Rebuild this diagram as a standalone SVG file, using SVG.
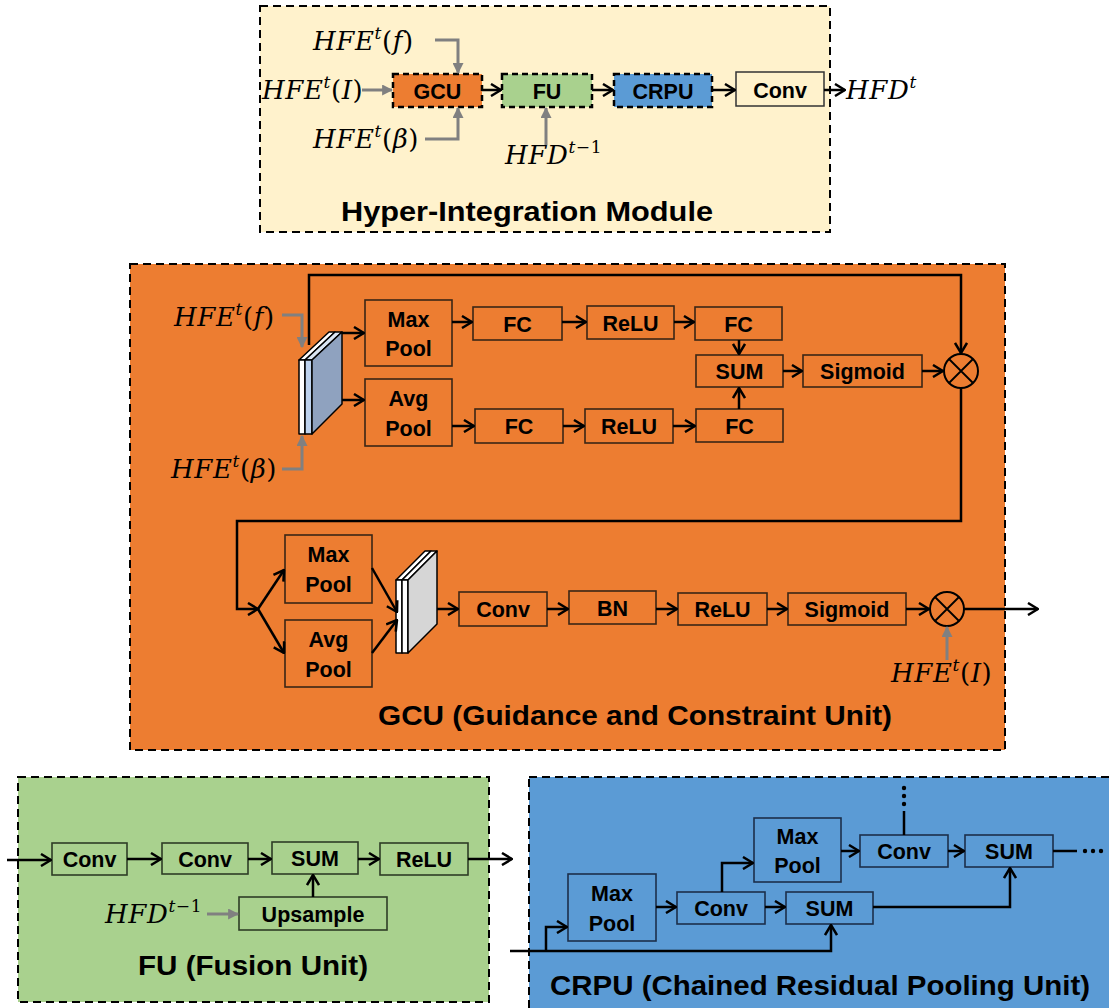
<svg xmlns="http://www.w3.org/2000/svg" width="1109" height="1008" viewBox="0 0 1109 1008">
<defs>
<style>
.frame{stroke:#000;stroke-width:2;stroke-dasharray:8 5}
.bx{fill:none;stroke:#3a2616;stroke-width:1.6}
.bxg{fill:none;stroke:#2e3d26;stroke-width:1.6}
.bxb{fill:none;stroke:#1c2f4a;stroke-width:1.6}
.lbl{font-family:"Liberation Sans",Arial,sans-serif;font-weight:bold;font-size:21.5px;text-anchor:middle;fill:#000}
.ttl{font-family:"Liberation Sans",Arial,sans-serif;font-weight:bold;font-size:28px;fill:#000}
.math{font-family:"DejaVu Serif","Liberation Serif",serif;font-style:italic;font-size:26px;letter-spacing:0.6px;fill:#000}
.up{font-style:normal}
.ar{fill:none;stroke:#000;stroke-width:2.5;marker-end:url(#ah)}
.ln{fill:none;stroke:#000;stroke-width:2.5}
.ga{fill:none;stroke:#808080;stroke-width:3;marker-end:url(#ag)}
.mdash{stroke:#000;stroke-width:2.5;stroke-dasharray:6 4}
</style>
<marker id="ah" viewBox="0 0 12 14" refX="11" refY="7" markerWidth="12" markerHeight="14" markerUnits="userSpaceOnUse" orient="auto"><path d="M1,1 L11,7 L1,13" fill="none" stroke="#000" stroke-width="2.5"/></marker>
<marker id="ag" viewBox="0 0 10 10" refX="9" refY="5" markerWidth="11" markerHeight="11" markerUnits="userSpaceOnUse" orient="auto"><path d="M0,0 L10,5 L0,10 z" fill="#808080"/></marker>
</defs>
<rect width="1109" height="1008" fill="#fff"/>

<!-- ===== Hyper-Integration Module ===== -->
<g id="him">
<rect x="260" y="6" width="570" height="226" fill="#FFF2CC" class="frame"/>
<g id="him-gcu"><rect x="393" y="74" width="89" height="33" fill="#ED7D31" class="mdash"/><text x="437.5" y="98.5" class="lbl" font-size="22">GCU</text></g>
<g id="him-fu"><rect x="502" y="74" width="90" height="33" fill="#A9D18E" class="mdash"/><text x="547" y="98.5" class="lbl" font-size="22">FU</text></g>
<g id="him-crpu"><rect x="614" y="74" width="98" height="33" fill="#5B9BD5" class="mdash"/><text x="663" y="98.5" class="lbl" font-size="22">CRPU</text></g>
<g id="him-conv"><rect x="736" y="72" width="88" height="34" fill="#FFF2CC" stroke="#333" stroke-width="1.5"/><text x="780" y="97.5" class="lbl" font-size="22">Conv</text></g>
<text x="313" y="50" class="math">HFE<tspan dy="-11" font-size="17">t</tspan><tspan dy="11" class="up">(</tspan>f<tspan class="up">)</tspan></text>
<text x="262" y="99" class="math">HFE<tspan dy="-11" font-size="17">t</tspan><tspan dy="11" class="up">(</tspan>I<tspan class="up">)</tspan></text>
<text x="313" y="148" class="math">HFE<tspan dy="-11" font-size="17">t</tspan><tspan dy="11" class="up">(</tspan>β<tspan class="up">)</tspan></text>
<text x="505" y="164" class="math">HFD<tspan dy="-11" font-size="17">t</tspan><tspan font-size="17" class="up">−1</tspan></text>
<text x="846" y="99" class="math">HFD<tspan dy="-11" font-size="17">t</tspan></text>
<text x="527" y="221" class="ttl" text-anchor="middle" textLength="372" lengthAdjust="spacingAndGlyphs">Hyper-Integration Module</text>
</g>

<!-- ===== GCU ===== -->
<g id="gcu">
<rect x="130" y="264" width="875" height="486" fill="#ED7D31" class="frame"/>
<text x="174" y="326" class="math">HFE<tspan dy="-11" font-size="17">t</tspan><tspan dy="11" class="up">(</tspan>f<tspan class="up">)</tspan></text>
<text x="171" y="478" class="math">HFE<tspan dy="-11" font-size="17">t</tspan><tspan dy="11" class="up">(</tspan>β<tspan class="up">)</tspan></text>
<text x="891" y="682" class="math">HFE<tspan dy="-11" font-size="17">t</tspan><tspan dy="11" class="up">(</tspan>I<tspan class="up">)</tspan></text>

<g id="stack1" stroke="#000" stroke-width="1.5" stroke-linejoin="round">
<polygon points="299,360 305,360 335,332 329,332" fill="#fff"/>
<rect x="299" y="360" width="6" height="74" fill="#fff"/>
<polygon points="305,360 312,360 342,332 335,332" fill="#DAE5F3"/>
<rect x="305" y="360" width="7" height="74" fill="#BDD2EE"/>
<polygon points="312,360 342,332 342,404 312,434" fill="#8FA2BF"/>
</g>
<g id="stack2" stroke="#000" stroke-width="1.5" stroke-linejoin="round">
<polygon points="396,580 402,580 431,551 425,551" fill="#fff"/>
<rect x="396" y="580" width="6" height="73" fill="#fff"/>
<polygon points="402,580 408,580 437,551 431,551" fill="#fff"/>
<rect x="402" y="580" width="6" height="73" fill="#fff"/>
<polygon points="408,580 437,551 437,624 408,653" fill="#D6D6D6"/>
</g>

<g id="g-maxpool"><rect x="365" y="300" width="87" height="66" class="bx"/><text x="408.5" y="327" class="lbl">Max</text><text x="408.5" y="356" class="lbl">Pool</text></g>
<g id="g-avgpool"><rect x="365" y="379" width="87" height="67" class="bx"/><text x="408.5" y="406" class="lbl">Avg</text><text x="408.5" y="436" class="lbl">Pool</text></g>
<g id="g-fc1"><rect x="473" y="307" width="89" height="33" class="bx"/><text x="517.5" y="331.5" class="lbl">FC</text></g>
<g id="g-relu1"><rect x="587" y="306" width="87" height="33" class="bx"/><text x="630.5" y="330.5" class="lbl">ReLU</text></g>
<g id="g-fc2"><rect x="695" y="307" width="87" height="33" class="bx"/><text x="738.5" y="331.5" class="lbl">FC</text></g>
<g id="g-sum"><rect x="696" y="355" width="87" height="32" class="bx"/><text x="739.5" y="379" class="lbl">SUM</text></g>
<g id="g-sig1"><rect x="803" y="355" width="119" height="32" class="bx"/><text x="862.5" y="379" class="lbl">Sigmoid</text></g>
<g id="g-fc3"><rect x="475" y="409" width="88" height="34" class="bx"/><text x="519" y="434" class="lbl">FC</text></g>
<g id="g-relu2"><rect x="585" y="409" width="88" height="34" class="bx"/><text x="629" y="434" class="lbl">ReLU</text></g>
<g id="g-fc4"><rect x="696" y="409" width="87" height="33" class="bx"/><text x="739.5" y="433.5" class="lbl">FC</text></g>
<g id="g-mul1"><circle cx="961" cy="371" r="17" fill="none" stroke="#000" stroke-width="2"/><path d="M949,359 L973,383 M973,359 L949,383" stroke="#000" stroke-width="1.8"/></g>

<g id="g-maxpool2"><rect x="285" y="535" width="87" height="68" class="bx"/><text x="328.5" y="562" class="lbl">Max</text><text x="328.5" y="592" class="lbl">Pool</text></g>
<g id="g-avgpool2"><rect x="285" y="620" width="87" height="67" class="bx"/><text x="328.5" y="647" class="lbl">Avg</text><text x="328.5" y="677" class="lbl">Pool</text></g>
<g id="g-conv"><rect x="459" y="592" width="88" height="34" class="bx"/><text x="503" y="617" class="lbl">Conv</text></g>
<g id="g-bn"><rect x="569" y="591" width="87" height="33" class="bx"/><text x="612.5" y="615.5" class="lbl">BN</text></g>
<g id="g-relu3"><rect x="678" y="593" width="89" height="32" class="bx"/><text x="722.5" y="617" class="lbl">ReLU</text></g>
<g id="g-sig2"><rect x="788" y="593" width="118" height="32" class="bx"/><text x="847" y="617" class="lbl">Sigmoid</text></g>
<g id="g-mul2"><circle cx="947" cy="609" r="17" fill="none" stroke="#000" stroke-width="2"/><path d="M935,597 L959,621 M959,597 L935,621" stroke="#000" stroke-width="1.8"/></g>

<text x="635" y="725" class="ttl" text-anchor="middle" textLength="514" lengthAdjust="spacingAndGlyphs">GCU (Guidance and Constraint Unit)</text>
</g>

<!-- ===== FU ===== -->
<g id="fu">
<rect x="18" y="777" width="471" height="225" fill="#A9D18E" class="frame"/>
<g id="f-conv1"><rect x="52" y="843" width="75" height="32" class="bxg"/><text x="89.5" y="867" class="lbl">Conv</text></g>
<g id="f-conv2"><rect x="162" y="843" width="86" height="31" class="bxg"/><text x="205" y="866.5" class="lbl">Conv</text></g>
<g id="f-sum"><rect x="272" y="842" width="86" height="32" class="bxg"/><text x="315" y="866" class="lbl">SUM</text></g>
<g id="f-relu"><rect x="380" y="843" width="88" height="32" class="bxg"/><text x="424" y="867" class="lbl">ReLU</text></g>
<g id="f-up"><rect x="239" y="897" width="148" height="33" class="bxg"/><text x="313" y="921.5" class="lbl">Upsample</text></g>
<text x="105" y="923" class="math">HFD<tspan dy="-11" font-size="17">t</tspan><tspan font-size="17" class="up">−1</tspan></text>
<text x="253" y="975" class="ttl" text-anchor="middle" textLength="230" lengthAdjust="spacingAndGlyphs">FU (Fusion Unit)</text>
</g>

<!-- ===== CRPU ===== -->
<g id="crpu">
<rect x="529" y="777" width="600" height="250" fill="#5B9BD5" class="frame"/>
<g id="c-maxpool1"><rect x="568" y="874" width="88" height="67" class="bxb"/><text x="612" y="901" class="lbl">Max</text><text x="612" y="931" class="lbl">Pool</text></g>
<g id="c-conv1"><rect x="677" y="892" width="88" height="32" class="bxb"/><text x="721" y="916" class="lbl">Conv</text></g>
<g id="c-sum1"><rect x="786" y="892" width="87" height="32" class="bxb"/><text x="829.5" y="916" class="lbl">SUM</text></g>
<g id="c-maxpool2"><rect x="754" y="818" width="87" height="64" class="bxb"/><text x="797.5" y="844" class="lbl">Max</text><text x="797.5" y="873" class="lbl">Pool</text></g>
<g id="c-conv2"><rect x="860" y="835" width="88" height="32" class="bxb"/><text x="904" y="859" class="lbl">Conv</text></g>
<g id="c-sum2"><rect x="965" y="835" width="88" height="32" class="bxb"/><text x="1009" y="859" class="lbl">SUM</text></g>
<g id="c-dots" fill="#000"><circle cx="904" cy="788" r="2.2"/><circle cx="904" cy="796" r="2.2"/><circle cx="904" cy="804" r="2.2"/><circle cx="1085" cy="851" r="2.2"/><circle cx="1093" cy="851" r="2.2"/><circle cx="1101" cy="851" r="2.2"/></g>
<text x="820" y="995" class="ttl" text-anchor="middle" textLength="540" lengthAdjust="spacingAndGlyphs">CRPU (Chained Residual Pooling Unit)</text>
</g>

<!-- ===== Connectors ===== -->
<g id="connectors">
<path class="ar" d="M482,90 L501,90"/>
<path class="ar" d="M592,90 L613,90"/>
<path class="ar" d="M712,90 L735,90"/>
<path class="ar" d="M824,90 L845,90"/>
<path class="ga" d="M362,90 L392,90"/>
<path class="ga" d="M435,40 L458,40 L458,73"/>
<path class="ga" d="M425,139 L458,139 L458,108"/>
<path class="ga" d="M546,145 L546,108"/>
<path class="ga" d="M282,315 L302,315 L302,347"/>
<path class="ga" d="M282,469 L302,469 L302,436"/>
<path class="ar" d="M309,345 L309,275 L961,275 L961,353"/>
<path class="ar" d="M342,333 L364,333"/>
<path class="ar" d="M342,400 L364,400"/>
<path class="ar" d="M452,322 L472,322"/>
<path class="ar" d="M562,322 L586,322"/>
<path class="ar" d="M674,322 L694,322"/>
<path class="ar" d="M452,426 L474,426"/>
<path class="ar" d="M563,426 L584,426"/>
<path class="ar" d="M673,426 L695,426"/>
<path class="ar" d="M739,340 L739,354"/>
<path class="ar" d="M739,409 L739,388"/>
<path class="ar" d="M783,371 L802,371"/>
<path class="ar" d="M922,371 L943,371"/>
<path class="ar" d="M961,388 L961,521 L237,521 L237,609 L258,609"/>
<path class="ar" d="M258,609 L284,570"/>
<path class="ar" d="M258,609 L284,653"/>
<path class="ar" d="M372,568 L397,612"/>
<path class="ar" d="M372,653 L397,620"/>
<path class="ar" d="M437,609 L458,609"/>
<path class="ar" d="M547,609 L568,609"/>
<path class="ar" d="M656,609 L677,609"/>
<path class="ar" d="M767,609 L787,609"/>
<path class="ar" d="M906,609 L929,609"/>
<path class="ar" d="M964,609 L1038,609"/>
<path class="ga" d="M947,660 L947,627"/>
<path class="ar" d="M7,860 L51,860"/>
<path class="ar" d="M127,859 L161,859"/>
<path class="ar" d="M248,859 L271,859"/>
<path class="ar" d="M358,859 L379,859"/>
<path class="ar" d="M468,859 L512,859"/>
<path class="ar" d="M313,897 L313,875"/>
<path class="ga" d="M207,914 L238,914"/>
<path class="ar" d="M510,951 L831,951 L831,925"/>
<path class="ar" d="M546,951 L546,927 L567,927"/>
<path class="ar" d="M656,907 L676,907"/>
<path class="ar" d="M765,907 L785,907"/>
<path class="ar" d="M722,892 L722,863 L753,863"/>
<path class="ar" d="M841,851 L859,851"/>
<path class="ar" d="M948,851 L964,851"/>
<path class="ar" d="M873,907 L1010,907 L1010,868"/>
<path class="ln" d="M904,835 L904,811"/>
<path class="ln" d="M1053,851 L1077,851"/>
</g>
</svg>
